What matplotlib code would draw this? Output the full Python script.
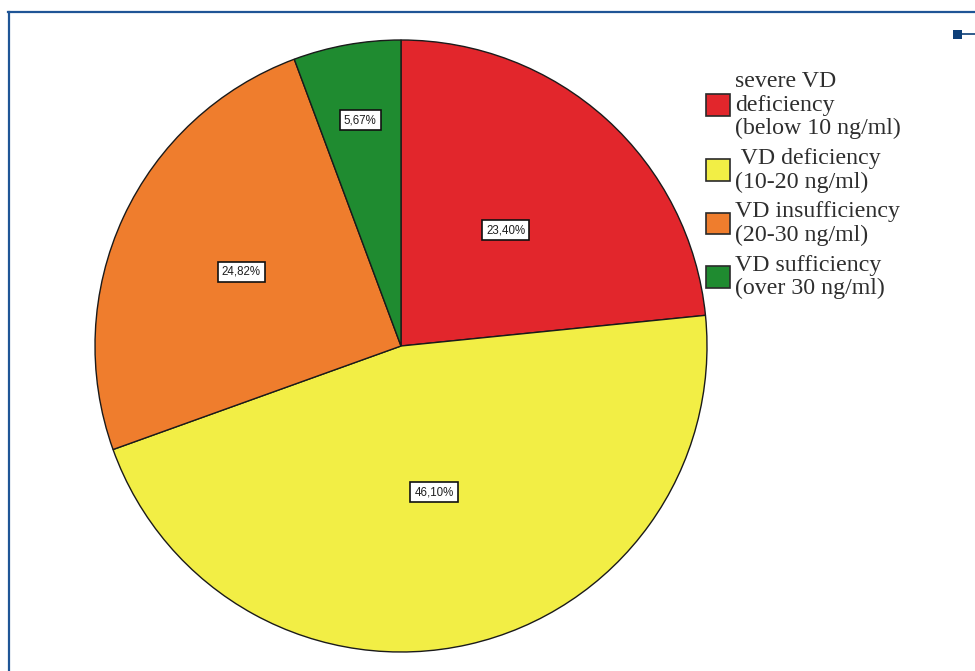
import numpy as np
import matplotlib
matplotlib.use("Agg")
import matplotlib.pyplot as plt
from matplotlib.patches import Patch, Rectangle
from matplotlib.lines import Line2D

# Vitamin D status distribution
categories = [
    "severe VD\ndeficiency\n(below 10 ng/ml)",
    " VD deficiency\n(10-20 ng/ml)",
    "VD insufficiency\n(20-30 ng/ml)",
    "VD sufficiency\n(over 30 ng/ml)",
]
shares = [23.40, 46.10, 24.82, 5.67]
colors = ["#e2262c", "#f2ee45", "#ef7d2d", "#1f8b30"]
# radial placement of each percentage box (fraction of radius)
label_radius = [0.51, 0.49, 0.575, 0.75]

W, H = 975, 671
fig = plt.figure(figsize=(W / 100, H / 100), dpi=100)
fig.patch.set_facecolor("white")

# pie axes: centre (401, 346) px from top, radius 306 px
cx, cy, r = 401, 346, 306
ax = fig.add_axes([(cx - r) / W, (H - cy - r) / H, 2 * r / W, 2 * r / H])
wedges, _ = ax.pie(
    shares, colors=colors, startangle=90, counterclock=False,
    wedgeprops=dict(edgecolor="#1a1a1a", linewidth=1.0),
)
ax.set_xlim(-1, 1)
ax.set_ylim(-1, 1)
ax.set_aspect("equal")
ax.axis("off")

# percentage labels in boxed text
total = sum(shares)
start = 90.0
for v, rr in zip(shares, label_radius):
    span = 360.0 * v / total
    mid = np.deg2rad(start - span / 2)
    start -= span
    ax.text(rr * np.cos(mid), rr * np.sin(mid),
            f"{v:.2f}".replace(".", ",") + "%",
            ha="center", va="center", fontsize=8.3,
            family="Liberation Sans", color="#1e1e1e",
            bbox=dict(boxstyle="square,pad=0.35", facecolor="white",
                      edgecolor="#111111", linewidth=1.2))

# legend
handles = [Patch(facecolor=c, edgecolor="#2a2a2a", linewidth=1.2) for c in colors]
leg = fig.legend(
    handles, categories, loc="upper left",
    bbox_to_anchor=(706 / W, 1 - 71 / H), frameon=False,
    prop=dict(family="Liberation Serif", size=17.2),
    handlelength=1.0, handleheight=1.0, handletextpad=0.2,
    labelspacing=0.36, borderpad=0.0, borderaxespad=0.0,
)
for t in leg.get_texts():
    t.set_color("#2e2e2e")
    t.set_linespacing(1.16)

# page frame: top and left rules
frame_col = "#1f5596"
fig.add_artist(Line2D([8 / W, 1.0], [1 - 11.5 / H, 1 - 11.5 / H],
                      transform=fig.transFigure, color=frame_col, linewidth=1.6))
fig.add_artist(Line2D([8.5 / W, 8.5 / W], [0.0, 1 - 11.5 / H],
                      transform=fig.transFigure, color=frame_col, linewidth=1.6))
# corner marker
fig.add_artist(Rectangle((953 / W, 1 - 39 / H), 9 / W, 9 / H,
                         transform=fig.transFigure, facecolor="#0d3f78",
                         edgecolor="none"))
fig.add_artist(Line2D([962 / W, 1.0], [1 - 34 / H, 1 - 34 / H],
                      transform=fig.transFigure, color="#0d3f78", linewidth=1.2))

fig.savefig("out.png", dpi=100, facecolor="white")
